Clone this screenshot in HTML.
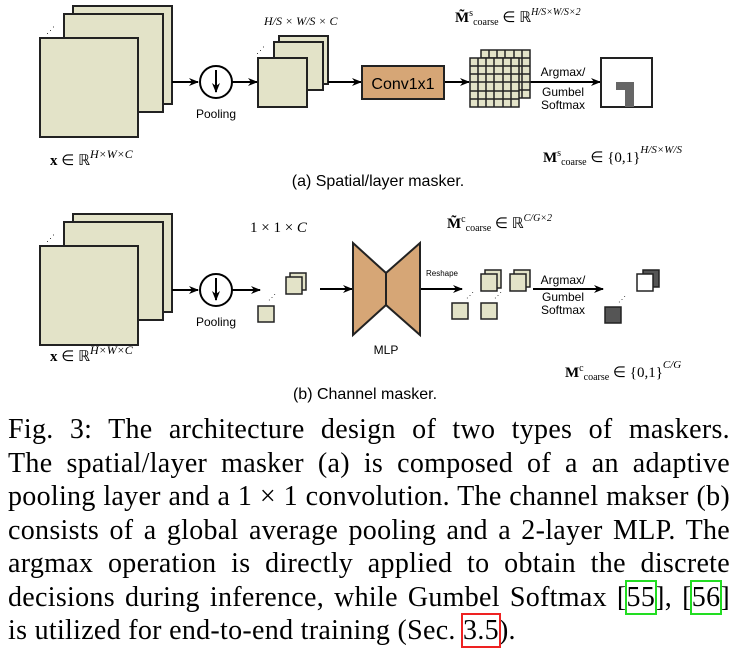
<!DOCTYPE html>
<html><head><meta charset="utf-8"><style>
body{margin:0;background:#fff;width:736px;height:652px;overflow:hidden;position:relative}
svg{position:absolute;left:0;top:0}
.cap{position:absolute;left:8px;width:722px;font-family:"Liberation Serif",serif;font-size:28px;letter-spacing:0.3px;line-height:33.5px;top:413px}
.cap div{text-align:justify;text-align-last:justify;white-space:nowrap;height:33.5px}
.cap div.l{text-align-last:left}
.g{outline:2px solid #2d2;outline-offset:0}
.r{outline:2px solid #e22}
</style></head><body>
<svg width="736" height="410" viewBox="0 0 736 410" font-family="Liberation Sans, sans-serif">
<defs><marker id="a" markerWidth="10" markerHeight="8" refX="9" refY="4" orient="auto" markerUnits="userSpaceOnUse"><path d="M0,0 L10,4 L0,8 L3,4z" fill="#000"/></marker></defs>
<g stroke="#222" stroke-width="2" fill="#e3e3c8">
<rect x="73" y="6" width="99" height="98"/><rect x="64" y="14" width="99" height="98"/><rect x="40" y="38" width="98" height="99"/>
<rect x="279" y="36" width="49" height="48"/><rect x="274" y="42" width="49" height="48"/><rect x="258" y="58" width="49" height="49"/>
<rect x="73" y="214" width="99" height="98"/><rect x="64" y="222" width="99" height="98"/><rect x="40" y="246" width="98" height="99"/>
</g>
<g fill="#333" font-size="9"><text x="46" y="33">⋰</text><text x="256" y="53">⋰</text><text x="46" y="241">⋰</text></g>
<g stroke="#000" stroke-width="2" fill="none">
<line x1="172" y1="82" x2="198" y2="82" marker-end="url(#a)"/>
<circle cx="216" cy="82" r="16"/><line x1="216" y1="70" x2="216" y2="92" marker-end="url(#a)"/>
<line x1="232" y1="82" x2="257" y2="82" marker-end="url(#a)"/>
<line x1="328" y1="82" x2="361" y2="82" marker-end="url(#a)"/>
<line x1="444" y1="82" x2="469" y2="82" marker-end="url(#a)"/>
<line x1="530" y1="82" x2="600" y2="82" marker-end="url(#a)"/>
<line x1="172" y1="290" x2="198" y2="290" marker-end="url(#a)"/>
<circle cx="216" cy="290" r="16"/><line x1="216" y1="278" x2="216" y2="300" marker-end="url(#a)"/>
<line x1="232" y1="290" x2="260" y2="290" marker-end="url(#a)"/>
<line x1="320" y1="289" x2="352" y2="289" marker-end="url(#a)"/>
<line x1="420" y1="289" x2="462" y2="289" marker-end="url(#a)"/>
<line x1="533" y1="289" x2="603" y2="289" marker-end="url(#a)"/>
</g>
<rect x="362" y="66" width="82" height="33" fill="#d6a676" stroke="#222" stroke-width="2"/>
<text x="403" y="89" font-size="16" text-anchor="middle">Conv1x1</text>
<g stroke="#222" stroke-width="1.5" fill="#e3e3c8">
<rect x="481" y="50" width="49" height="48"/>
<path d="M489 50V98M497 50V98M505 50V98M514 50V98M522 50V98M481 58H530M481 66H530M481 74H530M481 82H530M481 90H530" fill="none"/>
<rect x="470" y="58" width="49" height="49"/>
<path d="M478 58V107M486 58V107M494 58V107M503 58V107M511 58V107M470 66H519M470 74H519M470 82H519M470 91H519M470 99H519" fill="none"/>
</g>
<rect x="601" y="58" width="51" height="49" fill="#fff" stroke="#222" stroke-width="2"/>
<path d="M616 82H634V107H625V90H616z" fill="#666"/>
<g font-size="12" text-anchor="middle"><text x="563" y="76">Argmax/</text><text x="563" y="96">Gumbel</text><text x="563" y="109">Softmax</text>
<text x="563" y="284">Argmax/</text><text x="563" y="301">Gumbel</text><text x="563" y="314">Softmax</text>
<text x="216" y="118">Pooling</text><text x="216" y="326">Pooling</text><text x="386" y="354">MLP</text></g>
<text x="442" y="276" font-size="8" text-anchor="middle">Reshape</text>
<g stroke="#222" stroke-width="1.5" fill="#e3e3c8">
<rect x="258" y="306" width="16" height="16"/>
<rect x="290" y="273" width="16" height="17"/><rect x="286" y="277" width="16" height="17"/>
<rect x="452" y="303" width="16" height="16"/>
<rect x="485" y="270" width="16" height="18"/><rect x="481" y="274" width="16" height="17"/>
<rect x="481" y="303" width="16" height="16"/>
<rect x="514" y="270" width="16" height="17"/><rect x="510" y="274" width="16" height="17"/>
<rect x="643" y="270" width="16" height="17" fill="#555"/><rect x="637" y="274" width="16" height="17" fill="#fff"/>
<rect x="605" y="307" width="16" height="16" fill="#555"/>
</g>
<g fill="#333" font-size="8"><text x="268" y="300">⋰</text><text x="466" y="298">⋰</text><text x="494" y="298">⋰</text><text x="618" y="302">⋰</text></g>
<path d="M353 243L386 273V305L353 335z M420 243L386 273V305L420 335z" fill="#d6a676" stroke="#222" stroke-width="2"/>
<g font-family="Liberation Serif, serif" font-size="15">
<text x="264" y="25" font-style="italic" font-size="12">H/S × W/S × C</text>
<text x="455" y="22"><tspan font-weight="bold">M̃</tspan><tspan font-size="10" dy="-6">s</tspan><tspan font-size="10" dy="9">coarse</tspan><tspan dy="-3"> ∈ ℝ</tspan><tspan font-size="10" dy="-7" font-style="italic">H/S×W/S×2</tspan></text>
<text x="50" y="165"><tspan font-weight="bold">x</tspan> ∈ ℝ<tspan font-size="12" dy="-7" font-style="italic">H×W×C</tspan></text>
<text x="543" y="162"><tspan font-weight="bold">M</tspan><tspan font-size="10" dy="-6">s</tspan><tspan font-size="10" dy="9">coarse</tspan><tspan dy="-3"> ∈ {0,1}</tspan><tspan font-size="11" dy="-9" font-style="italic">H/S×W/S</tspan></text>
<text x="250" y="232">1 × 1 × <tspan font-style="italic">C</tspan></text>
<text x="447" y="228"><tspan font-weight="bold">M̃</tspan><tspan font-size="10" dy="-6">c</tspan><tspan font-size="10" dy="9">coarse</tspan><tspan dy="-3"> ∈ ℝ</tspan><tspan font-size="10" dy="-7" font-style="italic">C/G×2</tspan></text>
<text x="50" y="361"><tspan font-weight="bold">x</tspan> ∈ ℝ<tspan font-size="12" dy="-7" font-style="italic">H×W×C</tspan></text>
<text x="565" y="377"><tspan font-weight="bold">M</tspan><tspan font-size="10" dy="-6">c</tspan><tspan font-size="10" dy="9">coarse</tspan><tspan dy="-3"> ∈ {0,1}</tspan><tspan font-size="11" dy="-9" font-style="italic">C/G</tspan></text>
</g>
<text x="378" y="186" font-size="16" text-anchor="middle">(a) Spatial/layer masker.</text>
<text x="365" y="399" font-size="16" text-anchor="middle">(b) Channel masker.</text>
</svg>
<div class="cap">
<div>Fig. 3: The architecture design of two types of maskers.</div>
<div>The spatial/layer masker (a) is composed of a an adaptive</div>
<div>pooling layer and a 1 × 1 convolution. The channel makser (b)</div>
<div>consists of a global average pooling and a 2-layer MLP. The</div>
<div>argmax operation is directly applied to obtain the discrete</div>
<div>decisions during inference, while Gumbel Softmax [<span class="g">55</span>], [<span class="g">56</span>]</div>
<div class="l">is utilized for end-to-end training (Sec. <span class="r">3.5</span>).</div>
</div>
</body></html>
